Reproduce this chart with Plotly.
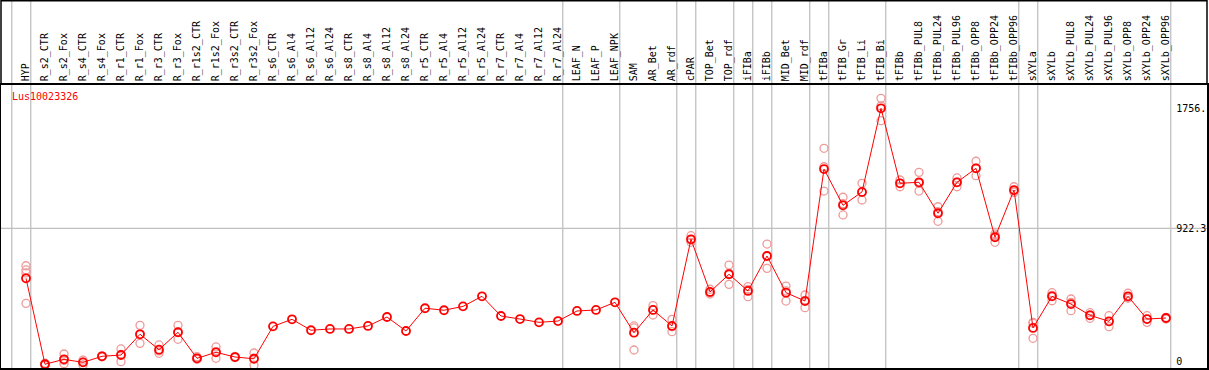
import plotly.graph_objects as go

categories = ["HYP", "R_s2_CTR", "R_s2_Fox", "R_s4_CTR", "R_s4_Fox", "R_r1_CTR", "R_r1_Fox",
              "R_r3_CTR", "R_r3_Fox", "R_r1s2_CTR", "R_r1s2_Fox", "R_r3s2_CTR", "R_r3s2_Fox",
              "R_s6_CTR", "R_s6_Al4", "R_s6_Al12", "R_s6_Al24", "R_s8_CTR", "R_s8_Al4", "R_s8_Al12",
              "R_s8_Al24", "R_r5_CTR", "R_r5_Al4", "R_r5_Al12", "R_r5_Al24", "R_r7_CTR", "R_r7_Al4",
              "R_r7_Al12", "R_r7_Al24", "LEAF_N", "LEAF_P", "LEAF_NPK", "SAM", "AR_Bet", "AR_rdf",
              "cPAR", "TOP_Bet", "TOP_rdf", "iFIBa", "iFIBb", "MID_Bet", "MID_rdf", "tFIBa",
              "tFIB_Gr", "tFIB_Li", "tFIB_Bi", "tFIBb", "tFIBb_PUL8", "tFIBb_PUL24", "tFIBb_PUL96",
              "tFIBb_OPP8", "tFIBb_OPP24", "tFIBb_OPP96", "sXYLa", "sXYLb", "sXYLb_PUL8",
              "sXYLb_PUL24", "sXYLb_PUL96", "sXYLb_OPP8", "sXYLb_OPP24", "sXYLb_OPP96"]

means = [575, -22, 12, -9, 33, 42, 186, 79, 200, 19, 61, 28, 16,
         241, 290, 214, 223, 223, 244, 306, 209, 367, 353, 380, 450, 313, 292, 269, 278,
         348, 355, 408, 197, 355, 244, 846, 480, 603, 487, 730, 475, 417,
         1334, 1082, 1175, 1756, 1235, 1242, 1027, 1242, 1339, 860, 1188,
         230, 450, 396, 318, 276, 450, 292, 299]

replicates = [[662, 633, 612, 401], [-15, -22, -29], [49, -18, 5], [7, -27, -7], [30, 36, 33],
              [84, -4, 46], [248, 123, 187], [112, 54, 71], [248, 151, 201], [30, 12, 15],
              [98, 19, 66], [24, 32, 28], [56, -29, 21],
              [], [], [], [], [], [], [], [], [], [], [], [], [], [], [], [], [], [], [],
              [244, 230, 77], [385, 320, 355], [290, 204, 238], [871, 825, 842],
              [499, 466, 475], [667, 533, 609], [517, 447, 497], [813, 644, 733],
              [521, 417, 487], [459, 371, 421], [1478, 1350, 1181], [1138, 1015, 1093],
              [1235, 1119, 1171], [1825, 1670, 1773], [1258, 1211, 1236], [1311, 1181, 1234],
              [1072, 971, 1038], [1272, 1211, 1243], [1388, 1288, 1341], [883, 825, 872],
              [1211, 1172, 1181], [269, 158, 263], [475, 419, 456], [431, 350, 407],
              [336, 297, 321], [315, 239, 274], [471, 436, 443], [315, 269, 292], [304, 292, 299]]

# last category of each group (vertical separators drawn just after them)
group_ends = [-1, 0, 28, 31, 34, 35, 37, 38, 39, 41, 42, 45, 52, 53, 60]

y_ticks = [0, 922.3, 1756]
y_ticktext = ["0\u00a0\u00a0\u00a0\u00a0", "922.3", "1756."]
gene = "Lus10023326"

FONT = "DejaVu Sans Mono"
idx = list(range(len(categories)))

rx, ry = [], []
for i, reps in enumerate(replicates):
    for v in reps:
        rx.append(i)
        ry.append(v)

fig = go.Figure()
fig.add_trace(go.Scatter(x=rx, y=ry, mode="markers",
                         marker=dict(symbol="circle-open", size=8, color="#ee9a9a",
                                     line=dict(width=1.3, color="#ee9a9a")),
                         hoverinfo="skip", showlegend=False, cliponaxis=False))
fig.add_trace(go.Scatter(x=idx, y=means, mode="lines+markers",
                         line=dict(color="#ff0000", width=1),
                         marker=dict(symbol="circle-open", size=8, color="#ff0000",
                                     line=dict(width=1.8, color="#ff0000")),
                         showlegend=False, cliponaxis=False))

H_TOP = 1 + 85 / 283

shapes = []
for g in group_ends:
    shapes.append(dict(type="line", xref="x", yref="paper", x0=g + 0.25, x1=g + 0.25,
                       y0=0, y1=H_TOP, line=dict(color="#c0c0c0", width=1.3), layer="below"))
shapes.append(dict(type="line", xref="paper", yref="y", x0=0, x1=1, y0=922.3, y1=922.3,
                   line=dict(color="#c0c0c0", width=1.3), layer="below"))
# frame around the header area
shapes.append(dict(type="line", xref="paper", yref="paper", x0=0, x1=1, y0=H_TOP - 0.003,
                   y1=H_TOP - 0.003, line=dict(color="black", width=1.5)))
shapes.append(dict(type="line", xref="paper", yref="paper", x0=0, x1=0, y0=1, y1=H_TOP,
                   line=dict(color="black", width=1.5)))
shapes.append(dict(type="line", xref="paper", yref="paper", x0=1, x1=1, y0=1, y1=H_TOP,
                   line=dict(color="black", width=1.5)))

fig.update_layout(
    width=1209, height=370,
    margin=dict(l=1, r=2, t=85, b=2, autoexpand=False),
    paper_bgcolor="white", plot_bgcolor="white",
    shapes=shapes,
    xaxis=dict(range=[-25 / 19, 1181 / 19], tickmode="array", tickvals=idx, ticktext=categories,
               side="top", tickangle=-90, ticks="", showgrid=False, zeroline=False,
               showline=True, mirror=True, linecolor="black", linewidth=1.5, automargin=False,
               tickfont=dict(family=FONT, size=10, color="black"), ticklabelstandoff=0),
    yaxis=dict(range=[-48.2, 1917.9], tickmode="array", tickvals=y_ticks, ticktext=y_ticktext,
               side="right", ticklabelposition="inside", ticks="", showgrid=False,
               zeroline=False, showline=True, mirror=True, linecolor="black", linewidth=1.5,
               automargin=False, tickfont=dict(family=FONT, size=10, color="black")),
    annotations=[dict(text=gene, xref="paper", yref="paper", x=9 / 1206, y=1 - 12 / 283,
                      xanchor="left", yanchor="middle", showarrow=False,
                      font=dict(family=FONT, size=10, color="#ff0000"))],
)

fig.write_html("out.html", config={"displayModeBar": False},
               post_script="document.body.style.margin='0';document.body.style.overflow='hidden';")
